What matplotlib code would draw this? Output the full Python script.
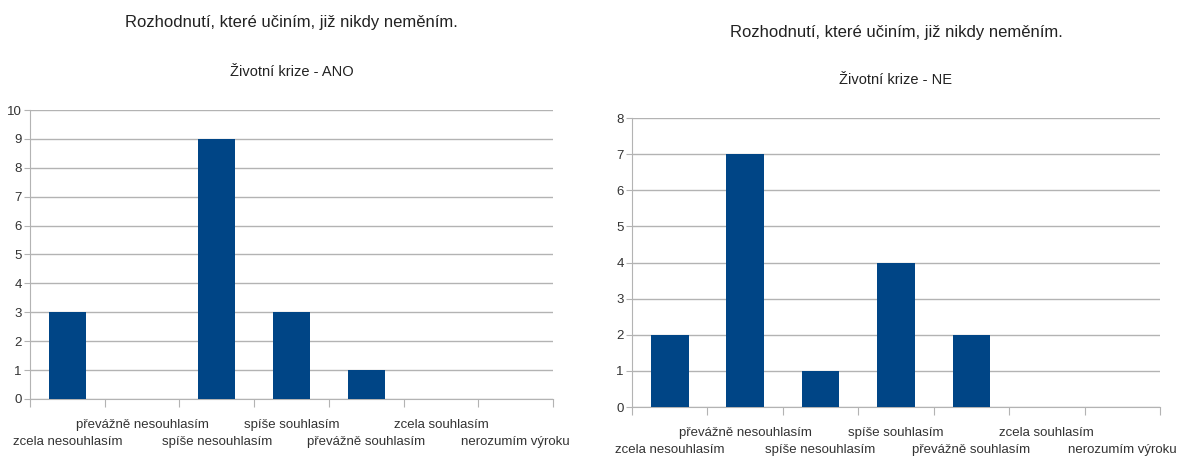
import matplotlib.pyplot as plt
from matplotlib.ticker import MultipleLocator

plt.rcParams['font.family'] = ['Liberation Sans Narrow', 'Liberation Sans', 'DejaVu Sans']

title = "Rozhodnutí, které učiním, již nikdy neměním."
categories = ["zcela nesouhlasím", "převážně nesouhlasím", "spíše nesouhlasím",
              "spíše souhlasím", "převážně souhlasím", "zcela souhlasím",
              "nerozumím výroku"]
ano_counts = [3, 0, 9, 3, 1, 0, 0]
ne_counts = [2, 7, 1, 4, 2, 0, 0]

bar_color = "#004586"
grid_color = "#b3b3b3"


def draw_panel(ax, counts, subtitle, ymax, title_y, sub_y):
    x = list(range(len(categories)))
    ax.bar(x, counts, width=0.5, color=bar_color, zorder=3)
    ax.set_xlim(-0.5, len(categories) - 0.5)
    ax.set_ylim(0, ymax)
    ax.yaxis.set_major_locator(MultipleLocator(1))
    ax.grid(axis="y", color=grid_color, linewidth=1, zorder=0)
    for side in ("top", "right"):
        ax.spines[side].set_visible(False)
    ax.spines["left"].set_color(grid_color)
    ax.spines["bottom"].set_color(grid_color)

    # boundary ticks between categories, labels drawn separately below
    ax.set_xticks([i - 0.5 for i in range(len(categories) + 1)])
    ax.set_xticklabels([])
    ax.tick_params(axis="x", length=6, color=grid_color)
    ax.tick_params(axis="y", length=4, color=grid_color, labelsize=9.5,
                   labelcolor="#333333", pad=2)

    # staggered category labels, first one on the lower row
    for i, name in zip(x, categories):
        offset = -31 if i % 2 == 0 else -19
        ax.annotate(name, xy=(i, 0), xycoords=("data", "axes fraction"),
                    xytext=(0, offset), textcoords="offset points",
                    ha="center", va="center", fontsize=9.5, color="#333333")

    fig = ax.figure
    bb = ax.get_position()
    cx = (bb.x0 + bb.x1) / 2
    fig.text(cx, title_y, title, ha="center", va="center", fontsize=12, color="#222222")
    fig.text(cx, sub_y, subtitle, ha="center", va="center", fontsize=10.5, color="#222222")


fig = plt.figure(figsize=(11.87, 4.62), dpi=100)
ax1 = fig.add_axes([0.0253, 0.1364, 0.4406, 0.6255])
ax2 = fig.add_axes([0.5324, 0.1190, 0.4448, 0.6255])

draw_panel(ax1, ano_counts, "Životní krize - ANO", 10, 1 - 22 / 462, 1 - 72 / 462)
draw_panel(ax2, ne_counts, "Životní krize - NE", 8, 1 - 32 / 462, 1 - 80 / 462)

fig.savefig("out.png", dpi=100)
